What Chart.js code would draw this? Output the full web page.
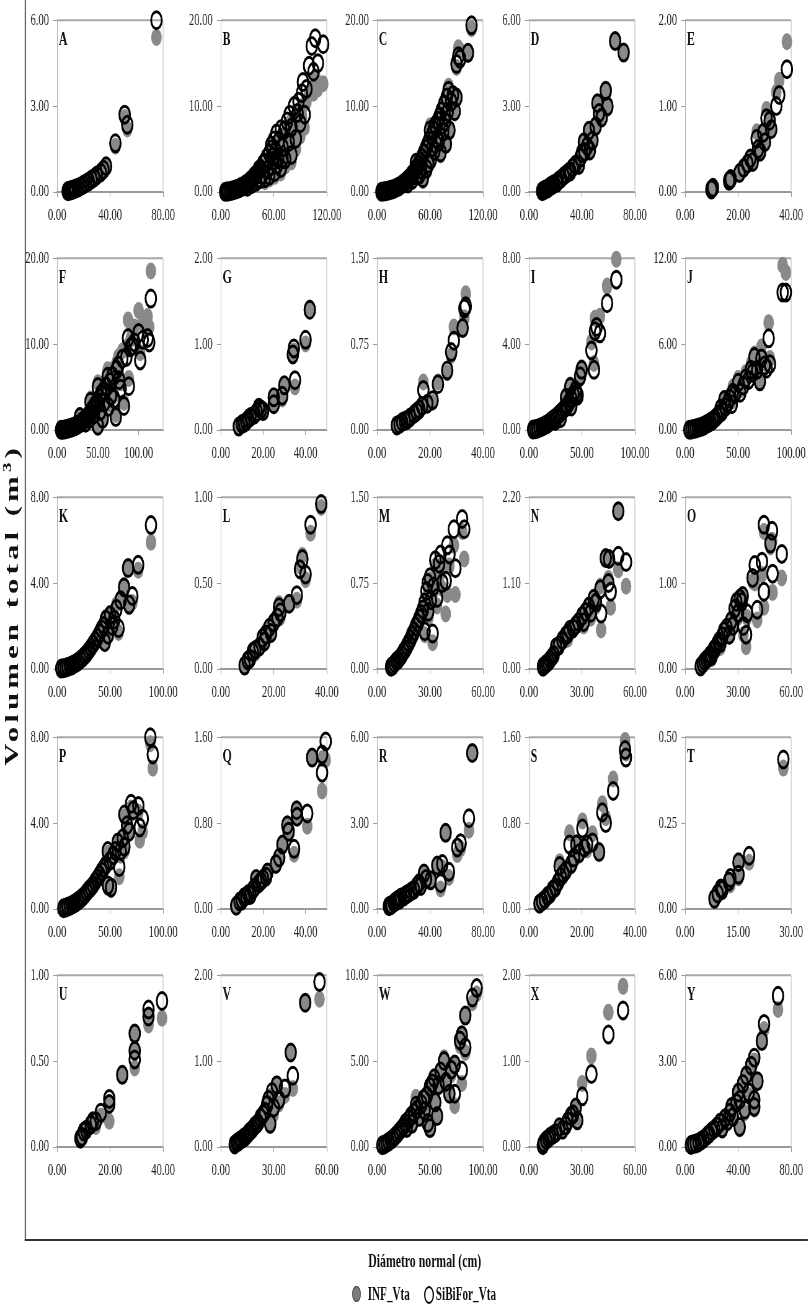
<!DOCTYPE html>
<html>
<head>
<meta charset="utf-8">
<script src="https://cdn.jsdelivr.net/npm/chart.js@4.4.1/dist/chart.umd.min.js"></script>
<style>
  html, body { margin: 0; padding: 0; background: #fff; overflow: hidden; }
  #stage { position: absolute; left: 0; top: 0; width: 1303px; height: 1311px;
           transform: scaleX(0.62); transform-origin: 0 0; font-family: "Liberation Serif", serif; color: #111; }
  .pane { position: absolute; }
  .vline { position: absolute; left: 40px; top: 0; width: 2.4px; height: 1241px; background: #666; }
  .hline { position: absolute; left: 40px; top: 1239px; width: 1263px; height: 2px; background: #333; }
  .ytitle { position: absolute; left: 19px; top: 605px; transform: translate(-50%, -50%) rotate(-90deg);
            white-space: nowrap; font-weight: bold; font-size: 31px; letter-spacing: 4px; }
  .ytitle sup { font-size: 19px; }
  .xtitle { position: absolute; left: 685px; top: 1250px; transform: translateX(-50%);
            white-space: nowrap; font-weight: bold; font-size: 19px; line-height: 22px; }
  .leg { position: absolute; top: 1284px; font-weight: bold; font-size: 18px; line-height: 20px; white-space: nowrap; }
  .mk { position: absolute; top: 1286px; width: 12px; height: 14px; border-radius: 50%; }
</style>
</head>
<body>
<div id="stage">
  <div class="vline"></div>
  <div class="hline"></div>
  <div class="ytitle">Volumen total (m<sup>3</sup>)</div>
  <div class="xtitle">Diámetro normal (cm)</div>
  <div class="mk" style="left:568px;background:#7c7c7c;border:1.5px solid #333;"></div>
  <div class="leg" style="left:593px;">INF_Vta</div>
  <div class="mk" style="left:684px;background:#fff;border:2px solid #000;"></div>
  <div class="leg" style="left:703px;">SiBiFor_Vta</div>
</div>
<script>
// panel letters and axes
const panels = ['A','B','C','D','E','F','G','H','I','J','K','L','M','N','O','P','Q','R','S','T','U','V','W','X','Y'];
const xMax  = [80,120,120,80,40, 130,50,40,100,100, 100,40,60,60,60, 100,50,80,40,30, 40,60,100,60,80];
const xStep = [40,60,60,40,20, 50,20,20,50,50, 50,20,30,30,30, 50,20,40,20,15, 20,30,50,30,40];
const yMax  = [6,20,20,6,2, 20,2,1.5,8,12, 8,1,1.5,2.2,2, 8,1.6,6,1.6,0.5, 1,2,10,2,6];

// diametro (cm), INF_Vta and SiBiFor_Vta (m3)
const dA = [8,9,10,11,12,13,14,16,18,20,22,24,26,28,30,33,35,37,44,51,53,75];
const infA = [0.03,0.04,0.05,0.06,0.08,0.1,0.12,0.15,0.2,0.25,0.3,0.36,0.42,0.5,0.55,0.65,0.75,0.85,1.6,2.6,2.2,5.4];
const sibA = [0.03,0.04,0.05,0.07,0.08,0.1,0.12,0.16,0.2,0.26,0.31,0.37,0.44,0.5,0.58,0.68,0.78,0.9,1.7,2.7,2.35,6.0];

const dB = [5,7,8,10,12,13,15,17,18,20,22,23,25,27,28,30,32,33,35,37,38,40,42,43,45,47,48,50,50,52,53,55,56,58,59,60,61,62,63,65,66,68,68,70,72,73,75,77,78,80,80,83,85,87,88,90,92,93,95,97,100,103,105,107,110,116,30,35,40,45,55,57,64,70];
const infB = [0.02,0.04,0.06,0.08,0.12,0.15,0.2,0.25,0.3,0.35,0.45,0.5,0.55,0.65,0.8,0.8,1.0,1.1,1.2,1.4,1.6,1.7,1.8,2.3,2.2,1.6,2.8,2.7,1.2,3.3,2.0,3.8,2.4,4.3,3.0,5.0,1.8,4.0,5.8,3.0,5.0,6.5,2.2,4.2,6.0,3.0,7.0,4.8,8.0,3.5,6.2,8.5,5.0,7.8,9.5,6.5,8.8,10.0,7.5,10.5,11.5,12.0,11.5,13.4,12.0,12.6,0.5,0.8,1.0,1.3,1.5,4.6,2.6,3.2];
const sibB = [0.02,0.05,0.06,0.1,0.14,0.18,0.22,0.3,0.35,0.4,0.5,0.6,0.65,0.8,0.9,1.0,1.2,1.3,1.5,1.6,1.9,2.0,2.3,2.6,2.7,2.0,3.3,3.4,1.6,4.0,2.6,4.5,3.0,5.0,3.6,6.0,2.3,4.8,6.8,3.8,6.0,7.3,2.8,5.2,7.2,3.8,8.2,5.8,9.0,4.3,7.5,10.0,6.2,9.2,10.5,8.0,11.5,12.8,9.0,12.0,14.7,17.0,14.0,17.9,15.0,17.2,0.6,0.9,1.2,1.5,1.9,5.4,3.2,3.9];

const dC = [5,7,9,11,13,15,17,19,21,23,25,27,29,31,33,35,37,39,41,43,44,45,47,48,49,51,52,53,55,56,57,59,60,61,62,64,65,66,67,69,70,71,72,73,75,76,77,78,79,80,81,82,84,86,88,90,90,92,94,103,107,35,40,45,50,58,63,68,74];
const infC = [0.02,0.04,0.06,0.1,0.15,0.2,0.25,0.3,0.4,0.5,0.6,0.7,0.85,1.0,1.2,1.3,1.6,1.8,2.0,2.4,3.5,2.6,3.0,1.8,3.4,3.8,1.3,4.3,4.7,2.4,5.3,5.8,7.7,3.5,6.4,7.0,4.5,8.0,7.5,8.4,5.5,9.0,4.3,9.6,6.8,10.5,8.0,5.6,11.2,9.3,12.3,7.0,10.5,11.0,9.2,10.9,14.5,16.8,16.5,16.0,19.0,0.9,1.3,1.7,2.4,3.0,5.0,6.0,7.5];
const sibC = [0.03,0.05,0.08,0.12,0.17,0.22,0.3,0.36,0.45,0.55,0.65,0.8,0.95,1.1,1.3,1.5,1.7,2.0,2.2,2.6,3.4,2.8,3.2,2.0,3.6,4.0,1.6,4.5,5.0,2.7,5.5,6.0,7.2,3.8,6.6,7.2,4.8,7.8,7.6,8.3,5.8,8.8,4.6,9.4,7.0,10.2,8.2,5.6,11.0,9.3,11.8,7.2,10.5,11.3,9.4,11.0,14.9,15.8,15.5,16.2,19.4,1.0,1.4,1.9,2.6,3.3,5.2,6.2,7.8];

const dD = [10,11,12,13,14,15,16,17,18,19,21.1,22,24,26.2,28,30,31.3,33,35,37.7,39,40,41.5,42,44,45.3,46,48,50.4,51.7,52.9,55,58,59.3,65.1,71.5];
const infD = [0.03,0.05,0.08,0.1,0.12,0.15,0.2,0.22,0.25,0.28,0.32,0.38,0.45,0.55,0.62,0.7,0.72,0.85,0.95,0.94,1.2,1.35,1.74,1.4,1.6,2.14,1.4,1.8,2.3,3.1,2.76,2.6,3.54,2.99,5.27,4.87];
const sibD = [0.03,0.05,0.08,0.1,0.12,0.15,0.2,0.22,0.25,0.28,0.32,0.38,0.45,0.55,0.62,0.7,0.72,0.85,0.95,0.94,1.2,1.35,1.74,1.4,1.6,2.14,1.45,1.8,2.3,3.1,2.76,2.6,3.54,2.99,5.27,4.87];

const dE = [9.9,10.5,16.6,17.2,20.5,22.1,23.5,24.6,25.5,27,27.5,28.3,29.5,30.1,30.7,31.9,32.5,34.4,35.5,38.4];
const infE = [0.03,0.05,0.13,0.15,0.22,0.28,0.33,0.39,0.35,0.7,0.5,0.47,0.69,0.58,0.96,0.83,0.73,1.16,1.3,1.75];
const sibE = [0.03,0.05,0.13,0.15,0.22,0.28,0.33,0.39,0.35,0.62,0.5,0.47,0.69,0.58,0.86,0.83,0.73,1.0,1.13,1.43];

const dF = [5,7,9,11,13,15,17,19,21,23,25,27,28,29,31,33,35,37,39,41,41,43,45,47,49,50,50,52,54,56,57,60,62,63,65,68,70,72,73,75,78,80,82,85,87,88,90,92,95,100,102,105,111,113,115,35,40,45,53,58,66,76];
const infF = [0.02,0.04,0.06,0.1,0.14,0.2,0.26,0.32,0.4,0.5,0.6,0.75,1.7,0.9,1.05,1.25,1.4,1.7,1.9,2.2,3.6,2.5,2.8,3.2,3.6,5.5,0.6,4.0,4.5,1.5,5.0,5.6,7.0,3.0,6.2,7.0,4.0,1.8,7.8,8.5,5.5,9.2,3.2,9.6,12.8,6.0,10.5,11.5,12.0,13.9,9.0,12.5,13.2,12.0,18.5,0.9,1.4,1.9,2.4,3.5,4.5,6.5];
const sibF = [0.02,0.04,0.07,0.1,0.15,0.2,0.25,0.32,0.4,0.48,0.58,0.7,1.5,0.85,1.0,1.2,1.35,1.6,1.8,2.1,3.3,2.4,2.7,3.0,3.3,5.0,0.5,3.7,4.2,1.3,4.6,5.1,6.2,2.7,5.6,6.3,3.6,1.5,7.0,7.5,4.8,8.3,2.8,8.5,10.7,5.1,9.6,9.8,10.2,11.3,8.1,10.5,10.7,10.2,15.3,0.85,1.3,1.8,2.2,3.2,4.0,5.8];

const dG = [8.5,10,11,12,13,14,16,17,18,19,20,25,25,29,30,34,34.5,35,40,42];
const infG = [0.04,0.06,0.08,0.1,0.12,0.14,0.17,0.2,0.25,0.23,0.2,0.28,0.36,0.36,0.5,0.87,0.92,0.5,1.0,1.42];
const sibG = [0.04,0.07,0.08,0.1,0.13,0.15,0.18,0.21,0.26,0.24,0.22,0.3,0.38,0.4,0.52,0.88,0.95,0.58,1.05,1.4];

const dH = [7.5,8.5,9.5,10.5,11.5,12.5,14,15,16,17,17.5,19,21,23,26.5,28,29,32.3,33,33.5];
const infH = [0.04,0.05,0.06,0.07,0.09,0.1,0.13,0.15,0.18,0.2,0.42,0.22,0.24,0.42,0.5,0.65,0.9,0.88,0.98,1.19];
const sibH = [0.04,0.05,0.07,0.08,0.09,0.11,0.14,0.16,0.18,0.21,0.35,0.23,0.26,0.4,0.52,0.68,0.78,0.89,1.06,1.08];

const dI = [4,6,8,10,12,14,16,18,20,22,24,25,26,28,30,30,32,34,35,35.8,36,38,39,40,40,42,44,45,46,48.3,49.8,59,61.4,62.3,63.8,67,73.8,82.5];
const infI = [0.02,0.04,0.06,0.1,0.14,0.2,0.25,0.32,0.4,0.48,0.56,0.45,0.65,0.75,0.85,0.6,0.95,1.05,1.6,1.1,1.2,1.35,2.1,1.5,1.2,1.7,1.9,1.9,1.7,2.4,2.9,4.1,3.1,5.2,5.2,5.3,6.7,7.95];
const sibI = [0.02,0.04,0.06,0.1,0.14,0.19,0.24,0.3,0.38,0.46,0.54,0.42,0.62,0.72,0.82,0.55,0.92,1.02,1.5,1.1,1.15,1.3,2.0,1.45,1.1,1.65,1.85,1.7,1.6,2.5,2.8,3.7,2.8,4.6,4.8,4.5,5.9,7.0];

const dJ = [4,6,8,10,12,14,16,18,20,22,24,26,28,30,32,33.5,35,37,38,40,42,44,45,47,50,52,55,57,60,62,63.7,65.4,68,70.5,72,75,77,78.8,80,92,95];
const infJ = [0.02,0.04,0.07,0.1,0.15,0.2,0.26,0.33,0.4,0.5,0.6,0.7,0.85,1.0,1.15,1.6,1.4,2.2,1.7,2.0,2.4,2.0,3.0,2.6,3.6,2.8,3.3,4.0,3.8,4.6,4.2,5.3,4.5,3.5,5.8,4.9,4.6,7.5,5.0,11.5,11.0];
const sibJ = [0.02,0.04,0.07,0.1,0.15,0.2,0.25,0.32,0.4,0.48,0.57,0.67,0.8,0.95,1.1,1.5,1.3,2.1,1.6,1.85,2.2,1.8,2.6,2.5,3.3,2.6,3.1,3.6,3.5,4.2,4.0,5.1,4.2,3.4,5.0,4.5,4.3,6.4,4.6,9.6,9.6];

const dK = [4,6,8,10,12,14,16,18,20,22,24,26,28,30,32,34,36,38,40,42,44,45,46,48,50,52,54,56,58,60,63.2,67,68,71,76.5,88.6];
const infK = [0.02,0.04,0.06,0.09,0.13,0.18,0.23,0.3,0.37,0.45,0.55,0.65,0.77,0.9,1.05,1.2,1.35,1.5,1.7,1.9,2.1,1.3,2.4,1.7,2.6,2.1,2.4,3.0,1.7,3.3,3.9,4.7,2.9,3.1,4.6,5.9];
const sibK = [0.02,0.04,0.06,0.09,0.13,0.17,0.22,0.28,0.35,0.43,0.52,0.62,0.73,0.86,1.0,1.15,1.3,1.45,1.65,1.85,2.0,1.25,2.3,1.6,2.5,2.0,2.3,2.8,1.9,3.2,3.8,4.7,3.0,3.4,4.85,6.7];

const dL = [9,10.2,11,12.1,13,14.6,15.8,16.5,17,18.3,19,20,21.4,22,22.5,25.8,28.7,29.9,30.8,32,33.9,37.9];
const infL = [0.02,0.05,0.07,0.1,0.09,0.13,0.19,0.15,0.22,0.23,0.2,0.28,0.32,0.38,0.3,0.38,0.4,0.6,0.66,0.52,0.79,0.94];
const sibL = [0.02,0.05,0.06,0.1,0.11,0.13,0.18,0.16,0.2,0.24,0.21,0.27,0.3,0.36,0.33,0.38,0.43,0.58,0.64,0.55,0.84,0.96];

const dM = [8,9,10,11,12,13,14,15,16,17,18,19,20,21,22,23,24,25,26,27,27,28,28.7,29,30,30.5,31.5,32,33,34,35.2,36,37,38.9,39.8,41,43.5,44.4,48.2,49.4];
const infM = [0.02,0.03,0.05,0.06,0.08,0.1,0.12,0.14,0.16,0.18,0.22,0.25,0.28,0.3,0.35,0.38,0.4,0.46,0.5,0.55,0.3,0.62,0.72,0.45,0.78,0.55,0.23,0.68,0.9,0.55,0.8,0.9,0.7,0.48,0.65,0.9,1.08,0.65,1.2,0.96];
const sibM = [0.02,0.03,0.05,0.07,0.08,0.1,0.12,0.15,0.17,0.2,0.23,0.26,0.3,0.33,0.37,0.4,0.44,0.48,0.52,0.58,0.33,0.68,0.75,0.5,0.8,0.6,0.31,0.72,0.95,0.62,0.92,1.0,0.75,0.77,1.08,1.0,1.22,0.88,1.31,1.22];

const dN = [8,9,10,11,12,13,14,15.4,17,19,20.9,22,23,25,26.5,28,30.2,31,32,33.9,35,36.7,38,40.4,40.9,43.5,45,45.4,46.3,50.6,50.6,55];
const infN = [0.03,0.05,0.07,0.1,0.13,0.16,0.2,0.25,0.28,0.35,0.41,0.38,0.48,0.5,0.54,0.62,0.66,0.55,0.75,0.79,0.65,0.91,0.8,1.06,0.5,1.41,1.16,1.4,0.79,1.27,2.02,1.06];
const sibN = [0.03,0.05,0.07,0.09,0.12,0.15,0.18,0.28,0.3,0.37,0.43,0.45,0.5,0.52,0.56,0.6,0.68,0.6,0.73,0.8,0.72,0.9,0.85,1.02,0.71,1.42,1.1,1.41,0.99,1.45,2.02,1.37];

const dO = [8.8,10,11,12,13,14,15,16.1,17,18,19,20,21,22,23.5,25,26,27,28,29,30,31,32,32.6,33,34.5,35,38.2,39.4,40.8,43.5,44.6,44.6,48.3,49.2,49.5,54.7];
const infO = [0.03,0.06,0.08,0.1,0.13,0.15,0.12,0.22,0.2,0.27,0.3,0.25,0.35,0.42,0.45,0.38,0.55,0.48,0.65,0.75,0.6,0.8,0.7,0.83,0.4,0.26,0.6,1.02,1.0,0.57,1.1,0.72,1.6,1.42,1.5,0.89,1.06];
const sibO = [0.03,0.06,0.09,0.11,0.13,0.16,0.15,0.22,0.24,0.28,0.32,0.3,0.38,0.44,0.48,0.4,0.56,0.5,0.7,0.78,0.65,0.82,0.78,0.85,0.5,0.4,0.65,1.06,1.21,0.69,1.25,0.9,1.68,1.46,1.61,1.11,1.34];

const dP = [6,8,10,12,14,16,18,20,22,24,26,28,30,32,34,36,38,40,42,44,46,47.8,48,50,51,53,55,57.2,58.7,60,62,63.5,63.5,66,68,69.8,72,76.7,78,80.8,88,90.3];
const infP = [0.04,0.06,0.1,0.14,0.19,0.25,0.31,0.38,0.45,0.55,0.65,0.76,0.88,1.0,1.1,1.25,1.4,1.55,1.7,1.85,2.0,2.6,1.0,2.2,0.9,2.4,2.6,3.0,1.5,2.5,3.2,4.3,2.7,3.8,3.5,4.7,4.5,4.5,3.2,3.6,7.7,6.55];
const sibP = [0.04,0.06,0.1,0.14,0.19,0.25,0.31,0.38,0.46,0.55,0.65,0.78,0.9,1.0,1.12,1.28,1.42,1.58,1.75,1.9,2.05,2.7,1.1,2.25,1.0,2.5,2.7,3.1,1.95,2.7,3.3,4.4,2.9,3.9,3.6,4.9,4.6,4.8,3.8,4.2,8.0,7.2];

const dQ = [7.3,8.9,10,11,12,13,14,15.2,16,16.7,18,19,20,21.4,22,26,27.6,29.1,31.4,32,34.6,35.8,36,40.8,43.1,47.8,47.8,49.5];
const infQ = [0.03,0.07,0.09,0.1,0.12,0.13,0.12,0.18,0.22,0.28,0.22,0.25,0.3,0.3,0.35,0.42,0.46,0.59,0.78,0.71,0.51,0.92,0.85,0.77,1.41,1.1,1.4,1.39];
const sibQ = [0.03,0.07,0.08,0.11,0.12,0.14,0.13,0.18,0.2,0.28,0.24,0.26,0.28,0.3,0.34,0.42,0.48,0.6,0.78,0.72,0.56,0.92,0.86,0.89,1.41,1.27,1.44,1.56];

const dR = [9,10,11,12.8,14,15,16,17,18,20.4,22,24,26,27.9,30,31.7,33,35.5,37,40.5,45.5,48,49.3,51.8,54.3,60.6,63.1,69.4,71.9];
const infR = [0.1,0.12,0.15,0.22,0.25,0.3,0.35,0.3,0.4,0.44,0.5,0.55,0.6,0.67,0.8,0.9,0.75,1.24,1.0,1.0,1.52,0.7,1.45,2.66,1.1,1.9,2.1,2.75,5.45];
const sibR = [0.1,0.12,0.14,0.22,0.26,0.3,0.33,0.32,0.4,0.44,0.5,0.55,0.62,0.67,0.8,0.9,0.8,1.24,1.05,1.0,1.52,0.9,1.57,2.66,1.3,2.15,2.3,3.17,5.45];

const dS = [4,5,6,7,8,9,10,11,11.6,12,13,14,15.3,16,17,17.9,19,20.2,20.9,22,24,26.5,27.7,29,31.8,36.3,36.6];
const infS = [0.05,0.07,0.1,0.12,0.15,0.18,0.22,0.25,0.44,0.28,0.3,0.35,0.71,0.4,0.45,0.62,0.5,0.82,0.57,0.55,0.7,0.53,0.98,0.85,1.21,1.57,1.45];
const sibS = [0.05,0.07,0.09,0.12,0.14,0.18,0.2,0.25,0.4,0.3,0.33,0.36,0.6,0.42,0.48,0.6,0.52,0.75,0.57,0.6,0.62,0.53,0.9,0.8,1.1,1.48,1.41];

const dT = [8.3,9.2,10.1,10.5,12.4,12.8,15.1,15.1,18.1,27.8];
const infT = [0.023,0.04,0.06,0.05,0.08,0.07,0.09,0.136,0.136,0.41];
const sibT = [0.03,0.045,0.06,0.055,0.08,0.09,0.1,0.136,0.155,0.435];

const dU = [8.8,9.4,10.1,11,12.7,13.5,14.6,16.5,19.7,19.7,24.6,29.3,29.3,29.3,34.5,34.5,39.6];
const infU = [0.04,0.06,0.08,0.1,0.12,0.14,0.12,0.18,0.15,0.25,0.42,0.46,0.56,0.66,0.71,0.76,0.75];
const sibU = [0.05,0.06,0.09,0.1,0.13,0.15,0.15,0.2,0.25,0.28,0.42,0.51,0.56,0.66,0.76,0.8,0.85];

const dV = [7.9,9,10,11,12,13,14,15.2,16,17,18,19,20,21,22.5,24,25,26.2,27,28,29,30,31.7,33,36.3,39.6,40.8,47.8,55.9];
const infV = [0.02,0.04,0.05,0.07,0.08,0.1,0.12,0.14,0.15,0.18,0.2,0.22,0.24,0.27,0.3,0.35,0.4,0.45,0.52,0.25,0.6,0.38,0.72,0.5,0.6,1.1,0.68,1.68,1.72];
const sibV = [0.03,0.05,0.06,0.08,0.09,0.11,0.12,0.15,0.17,0.19,0.21,0.24,0.26,0.28,0.34,0.38,0.41,0.49,0.55,0.27,0.64,0.46,0.72,0.55,0.68,1.1,0.83,1.68,1.92];

const dW = [5,7,9,11,13,15,17,19,21,23,25,26.7,28,30,32,33,35,36.7,38,40,42,44,45,47,48,50,50,52,54,55,56.7,58,60,63.3,65,68.3,70,73.3,73.3,78.3,80,80,83.3,83.3,90,94];
const infW = [0.1,0.15,0.22,0.3,0.4,0.5,0.6,0.75,0.9,1.0,1.2,1.4,1.1,1.6,1.8,1.3,2.0,2.9,2.2,1.7,2.5,2.8,2.0,3.0,1.3,3.3,1.0,3.6,4.0,2.5,1.8,3.5,4.3,5.2,3.6,3.1,4.2,4.8,2.4,5.9,6.5,3.7,5.5,7.65,8.4,8.9];
const sibW = [0.1,0.15,0.22,0.3,0.4,0.5,0.62,0.75,0.9,1.05,1.2,1.4,1.1,1.6,1.8,1.35,2.0,2.4,2.2,1.75,2.5,2.8,2.1,3.0,1.4,3.5,1.1,3.7,4.0,2.6,1.8,3.6,4.4,5.0,3.8,3.1,4.5,4.8,3.1,6.2,6.5,4.45,5.8,7.65,8.7,9.25];

const dX = [7.9,8.5,9.8,11,12,13.5,15,17.2,19,20.9,22,23.7,25,26.5,27.4,30.2,35.4,45,53.3];
const infX = [0.02,0.05,0.08,0.1,0.12,0.14,0.15,0.23,0.2,0.25,0.3,0.36,0.35,0.46,0.31,0.74,1.06,1.57,1.87];
const sibX = [0.02,0.05,0.08,0.1,0.12,0.14,0.16,0.23,0.2,0.25,0.3,0.36,0.38,0.46,0.31,0.59,0.85,1.31,1.59];

const dY = [4.4,6,8,10,12,14,16.7,18,20,22,24,26.5,28,30,32,33.8,35,36,38.7,40,41.2,41.2,43.6,45,46.1,48,49.8,52.2,52.2,52.2,54.6,57.9,59.6,70.1];
const infY = [0.07,0.1,0.12,0.16,0.22,0.28,0.4,0.45,0.55,0.62,0.72,0.86,0.6,1.0,0.85,1.2,1.4,1.0,1.54,1.9,0.63,1.65,2.2,1.2,2.5,1.8,2.84,1.65,1.32,3.0,2.27,3.7,4.1,4.8];
const sibY = [0.07,0.1,0.12,0.16,0.22,0.28,0.4,0.45,0.55,0.62,0.72,0.86,0.65,1.0,0.9,1.2,1.4,1.05,1.54,1.9,0.7,1.65,2.2,1.3,2.5,1.9,2.84,1.65,1.4,3.12,2.3,3.7,4.3,5.28];

const diam = [dA,dB,dC,dD,dE,dF,dG,dH,dI,dJ,dK,dL,dM,dN,dO,dP,dQ,dR,dS,dT,dU,dV,dW,dX,dY];
const infV_all = [infA,infB,infC,infD,infE,infF,infG,infH,infI,infJ,infK,infL,infM,infN,infO,infP,infQ,infR,infS,infT,infU,infV,infW,infX,infY];
const sibV_all = [sibA,sibB,sibC,sibD,sibE,sibF,sibG,sibH,sibI,sibJ,sibK,sibL,sibM,sibN,sibO,sibP,sibQ,sibR,sibS,sibT,sibU,sibV,sibW,sibX,sibY];

// layout (unscaled px; the stage is squeezed horizontally by 0.62)
const SX = 0.62;
const colLeft = [57, 221, 377, 529, 685].map(v => v / SX);
const rowTop = [15, 253, 492, 732, 970];
const PW = 171, PH = 177, YW = 75, PT = 12, PR = 36, XH = 40;

const framePlugin = {
  id: 'frame',
  beforeDatasetsDraw(chart) {
    const { ctx, chartArea: a } = chart;
    ctx.save();
    ctx.strokeStyle = '#a8a8a8';
    ctx.lineWidth = 2;
    ctx.beginPath(); ctx.moveTo(a.left, a.top); ctx.lineTo(a.right, a.top); ctx.stroke();
    ctx.strokeStyle = '#cfcfcf';
    ctx.lineWidth = 1.5;
    ctx.beginPath(); ctx.moveTo(a.right, a.top); ctx.lineTo(a.right, a.bottom); ctx.stroke();
    ctx.restore();
  },
  afterDraw(chart, args, opts) {
    const { ctx, chartArea: a } = chart;
    ctx.save();
    ctx.fillStyle = '#111';
    ctx.font = 'bold 19px "Liberation Serif"';
    ctx.textBaseline = 'alphabetic';
    ctx.fillText(opts.letter, a.left + 3, a.top + 25);
    ctx.restore();
  }
};

const tickFont = { family: 'Liberation Serif', size: 17 };
const stage = document.getElementById('stage');

panels.forEach((name, i) => {
  const r = Math.floor(i / 5), c = i % 5;
  const box = document.createElement('div');
  box.className = 'pane';
  box.style.left = (colLeft[c] - YW) + 'px';
  box.style.top = (rowTop[r] - PT) + 'px';
  const cv = document.createElement('canvas');
  cv.width = YW + PW + PR;
  cv.height = PT + PH + XH;
  box.appendChild(cv);
  stage.appendChild(box);

  const xt = [];
  for (let v = 0; v <= xMax[i] + 1e-9; v += xStep[i]) xt.push(v);
  const yt = [0, yMax[i] / 2, yMax[i]];
  const d = diam[i];

  new Chart(cv, {
    type: 'scatter',
    data: {
      datasets: [
        { label: 'INF_Vta', data: d.map((x, k) => ({ x: x, y: infV_all[i][k] })), order: 2,
          pointRadius: 8.5, pointHoverRadius: 8.5, backgroundColor: '#898989', borderColor: '#898989', borderWidth: 0, clip: false },
        { label: 'SiBiFor_Vta', data: d.map((x, k) => ({ x: x, y: sibV_all[i][k] })), order: 1,
          pointRadius: 8.5, pointHoverRadius: 8.5, backgroundColor: 'rgba(255,255,255,0)', borderColor: '#000', borderWidth: 3, clip: false }
      ]
    },
    options: {
      responsive: false,
      animation: false,
      devicePixelRatio: 1,
      events: [],
      layout: { padding: { top: PT, right: PR, left: 0, bottom: 0 } },
      plugins: { legend: { display: false }, tooltip: { enabled: false }, frame: { letter: name } },
      scales: {
        x: {
          type: 'linear', min: 0, max: xMax[i],
          afterBuildTicks: s => { s.ticks = xt.map(v => ({ value: v })); },
          afterFit: s => { s.height = XH; },
          grid: { drawOnChartArea: false, tickLength: 5, tickColor: '#999' },
          border: { color: '#999', width: 2 },
          ticks: { padding: 8, color: '#222', font: tickFont, maxRotation: 0, autoSkip: false,
                   callback: v => Number(v).toFixed(2) }
        },
        y: {
          type: 'linear', min: 0, max: yMax[i],
          afterBuildTicks: s => { s.ticks = yt.map(v => ({ value: v })); },
          afterFit: s => { s.width = YW; },
          grid: { drawOnChartArea: false, tickLength: 6, tickColor: '#999' },
          border: { color: '#b0b0b0', width: 1 },
          ticks: { padding: 7, color: '#222', font: tickFont, autoSkip: false,
                   callback: v => Number(v).toFixed(2) }
        }
      }
    },
    plugins: [framePlugin]
  });
});
</script>
</body>
</html>
